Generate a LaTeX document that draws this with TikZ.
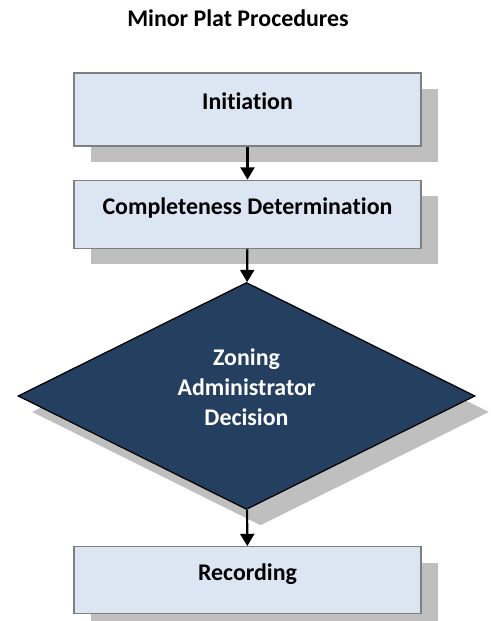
\documentclass[tikz,border=0pt]{standalone}
\usepackage{fontspec}
\setmainfont{Carlito}[Ligatures=CommonOff]
\usepackage{tikz}
\usetikzlibrary{arrows.meta,positioning,shapes.geometric,shadows}
\definecolor{stepfill}{HTML}{DCE6F2}
\definecolor{stepline}{HTML}{7F7F7F}
\definecolor{navy}{HTML}{243F60}
\definecolor{shade}{HTML}{BFBFBF}
\tikzset{
  stepbox/.style={
    rectangle, draw=stepline, fill=stepfill, line width=0.7pt,
    minimum width=6.94cm, minimum height=#1,
    font=\fontsize{13.6}{17}\selectfont\bfseries,
    text height=1.6ex, text depth=1.6ex, inner sep=0pt,
    drop shadow={shadow xshift=0.34cm, shadow yshift=-0.32cm, fill=shade, opacity=1}
  },
  stepbox/.default=1.36cm,
  decisionbox/.style={
    diamond, draw=black, fill=navy, text=white, line width=0.7pt,
    minimum width=9.14cm, minimum height=4.54cm, aspect=2, inner sep=0pt,
    font=\fontsize{13.6}{17}\selectfont\bfseries,
    drop shadow={shadow xshift=0.28cm, shadow yshift=-0.32cm, fill=shade, opacity=1}
  },
  flowarrow/.style={
    -{Triangle[width=8pt, length=7pt]}, line width=1.2pt, color=black
  },
  titlenode/.style={
    font=\fontsize{13.6}{17}\selectfont\bfseries, anchor=base
  },
}
\begin{document}
\begin{tikzpicture}[node distance=0.66cm]
\useasboundingbox (0,0) rectangle (9.8,-12.42);

% Title
\node[titlenode] (title) at (4.76,-0.54) {Minor Plat Procedures};

% Steps
\node[stepbox=1.46cm] (init) at (4.95,-2.19) {Initiation};
\node[stepbox, below=of init] (complete) {Completeness Determination};
\node[decisionbox, below=of complete, xshift=-0.02cm] (decision)
  {\raisebox{0pt}[0pt][0pt]{\begin{tabular}{@{}c@{}}Zoning\\Administrator\\Decision\end{tabular}}};
\node[stepbox=1.34cm, below=0.72cm of decision.south, xshift=0.02cm] (record) {Recording};

% Flow
\draw[flowarrow] (init) -- (complete);
\draw[flowarrow] (complete) -- (decision);
\draw[flowarrow] (decision) -- (record);

\end{tikzpicture}
\end{document}
